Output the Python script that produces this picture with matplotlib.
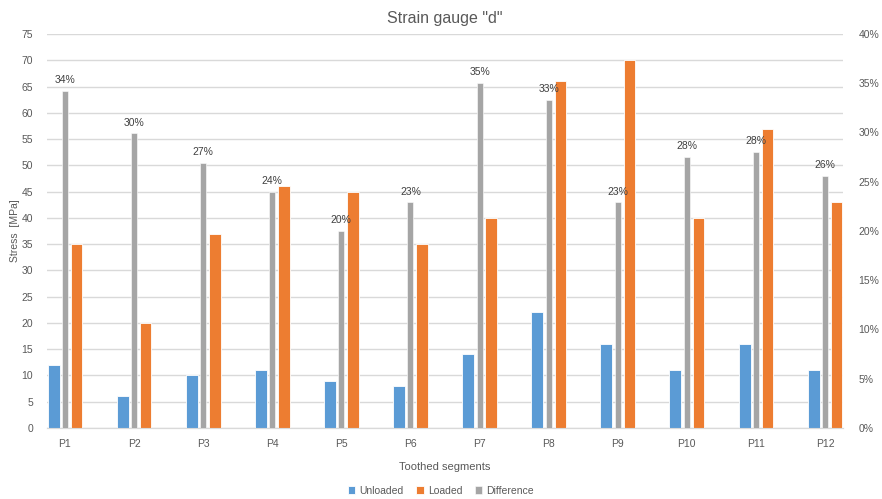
import numpy as np
import matplotlib
matplotlib.use("Agg")
import matplotlib.pyplot as plt
from matplotlib.ticker import FuncFormatter

segments = ["P1", "P2", "P3", "P4", "P5", "P6", "P7", "P8", "P9", "P10", "P11", "P12"]
unloaded = [12, 6, 10, 11, 9, 8, 14, 22, 16, 11, 16, 11]
loaded = [35, 20, 37, 46, 45, 35, 40, 66, 70, 40, 57, 43]
# difference in percent (right axis)
difference = [34.2, 29.9, 26.9, 24.0, 20.0, 22.9, 35.0, 33.3, 22.9, 27.5, 28.0, 25.6]

blue = "#5B9BD5"
orange = "#ED7D31"
gray = "#A5A5A5"
txt = "#595959"
grid = "#D9D9D9"

plt.rcParams['font.family'] = ['Liberation Sans', 'DejaVu Sans']

fig = plt.figure(figsize=(8.82, 4.99), dpi=100)
ax = fig.add_axes([0.0533, 0.1423, 0.9025, 0.7896])
ax2 = ax.twinx()

x = np.arange(len(segments))
b1 = ax.bar(x - 0.165, unloaded, 0.173, color=blue, edgecolor="white", linewidth=0.6, zorder=3)
b2 = ax.bar(x + 0.168, loaded, 0.166, color=orange, edgecolor="white", linewidth=0.6, zorder=3)
d = np.array(difference) / 100
b3 = ax2.bar(x, d, 0.087, color=gray, edgecolor="white", linewidth=0.4, zorder=3)

for xi, v in zip(x, difference):
    ax2.text(xi, v / 100 + 0.006, "%d%%" % round(v), ha="center", va="bottom",
             fontsize=7.5, color="#404040")

ax.set_xlim(-0.26, 11.26)
ax.set_ylim(0, 75)
ax.set_yticks(np.arange(0, 76, 5))
ax2.set_ylim(0, 0.40)
ax2.set_yticks(np.arange(0, 0.401, 0.05))
ax2.yaxis.set_major_formatter(FuncFormatter(lambda v, p: "%d%%" % round(v * 100)))

ax.set_xticks(x)
ax.set_xticklabels(segments)
ax.yaxis.grid(True, color=grid, linewidth=1, zorder=0)
ax.set_axisbelow(True)

for a in (ax, ax2):
    for s in ("top", "left", "right"):
        a.spines[s].set_visible(False)
    a.spines["bottom"].set_color(grid)
    a.tick_params(length=0, labelsize=7.5, colors=txt)
ax.tick_params(axis="y", pad=10)
ax.tick_params(axis="x", pad=8)
ax2.tick_params(axis="y", pad=11)

ax.set_title('Strain gauge "d"', fontsize=11.5, color=txt, pad=8)
ax.set_ylabel("Stress  [MPa]", fontsize=7.5, color=txt)
ax.yaxis.set_label_coords(-0.034, 0.5)
ax.set_xlabel("Toothed segments", fontsize=8, color=txt, labelpad=9)

fig.legend([b1, b2, b3], ["Unloaded", "Loaded", "Difference"], loc="lower center",
           bbox_to_anchor=(0.5, -0.012), ncol=3, frameon=False, fontsize=7.5,
           handlelength=0.7, handleheight=0.7, handletextpad=0.4, columnspacing=1.2,
           labelcolor=txt)

fig.savefig("out.png", dpi=100)
